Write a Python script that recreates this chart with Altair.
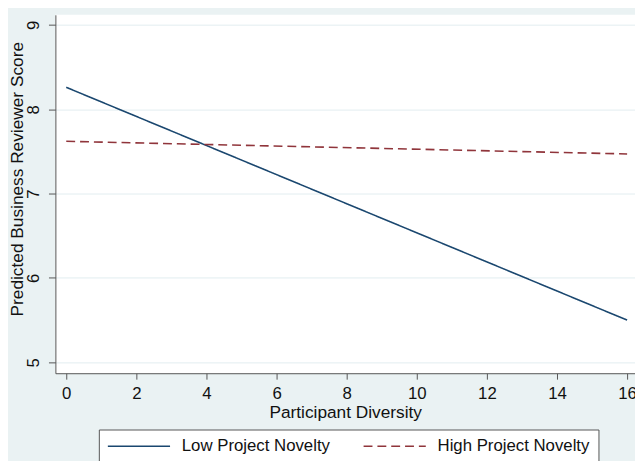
import altair as alt
import pandas as pd

# data
diversity = [0, 16]
low_novelty = [8.26, 5.50]
high_novelty = [7.62, 7.47]
series_names = ["Low Project Novelty", "High Project Novelty"]
x_ticks = [0, 2, 4, 6, 8, 10, 12, 14, 16]
y_ticks = [5, 6, 7, 8, 9]

rows = []
for name, vals in zip(series_names, [low_novelty, high_novelty]):
    for x, y in zip(diversity, vals):
        rows.append({"diversity": x, "score": y, "series": name})
df = pd.DataFrame(rows)

FONT = "Liberation Sans"
BG = "#EAF2F3"

legend_cfg = dict(
    title=None,
    orient="none",
    legendX=44,
    legendY=420,
    direction="horizontal",
    columns=2,
)

chart = (
    alt.Chart(df)
    .mark_line(strokeWidth=1.6)
    .encode(
        x=alt.X(
            "diversity:Q",
            scale=alt.Scale(domain=[-0.31, 16.225], nice=False, zero=False),
            axis=alt.Axis(
                values=x_ticks,
                title="Participant Diversity",
                grid=False,
                tickSize=6,
                labelPadding=7,
                titlePadding=2,
                labelFlush=False,
            ),
        ),
        y=alt.Y(
            "score:Q",
            scale=alt.Scale(domain=[4.87, 9.12], nice=False, zero=False),
            axis=alt.Axis(
                values=y_ticks,
                title="Predicted Business Reviewer Score",
                grid=True,
                tickSize=7,
                labelAngle=270,
                labelAlign="center",
                labelBaseline="bottom",
                labelPadding=6,
                titleX=-38,
                titleY=166,
                titleAngle=270,
                titleBaseline="middle",
                titleAlign="center",
                labelFlush=False,
            ),
        ),
        color=alt.Color(
            "series:N",
            sort=series_names,
            scale=alt.Scale(domain=series_names, range=["#1A476F", "#90353B"]),
            legend=alt.Legend(**legend_cfg),
        ),
        strokeDash=alt.StrokeDash(
            "series:N",
            sort=series_names,
            scale=alt.Scale(domain=series_names, range=[[1, 0], [9, 5]]),
            legend=alt.Legend(**legend_cfg),
        ),
    )
    .properties(
        width=587,
        height=363,
        background=BG,
        padding={"left": 48, "top": 4, "right": 0, "bottom": 86},
        autosize=alt.AutoSizeParams(type="none"),
    )
    .configure_view(stroke=None, fill="white")
    .configure_axis(
        domainColor="#555555",
        tickColor="#555555",
        gridColor="#E2EDF0",
        gridWidth=1,
        labelColor="#111111",
        titleColor="#111111",
        labelFont=FONT,
        titleFont=FONT,
        labelFontSize=17,
        titleFontSize=17.5,
        titleFontWeight="normal",
    )
    .configure_legend(
        fillColor="white",
        strokeColor="#555555",
        padding=8,
        symbolType="M-1,0H7",
        symbolSize=248,
        symbolStrokeWidth=1.6,
        labelFont=FONT,
        labelFontSize=17,
        labelColor="#111111",
        labelOffset=58,
        columnPadding=29,
        labelLimit=400,
    )
)

chart.save("out.html", embed_options={"renderer": "svg", "actions": False})
